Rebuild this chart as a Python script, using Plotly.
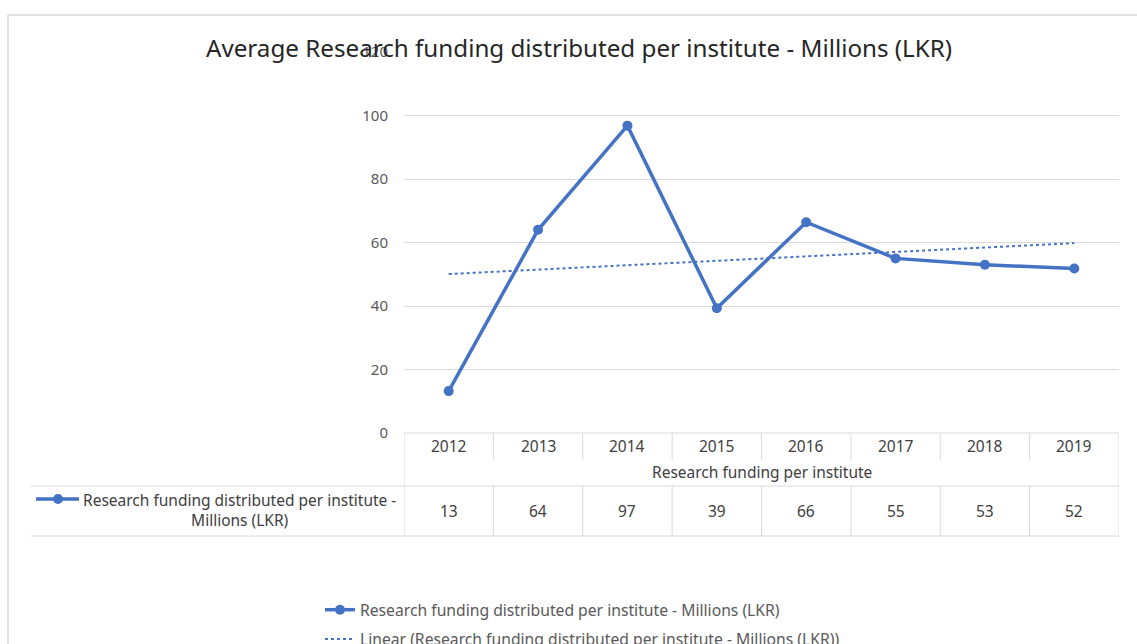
import numpy as np
import plotly.graph_objects as go

# ---- data ----
years = ["2012", "2013", "2014", "2015", "2016", "2017", "2018", "2019"]
funding = [13.2, 64.0, 96.8, 39.3, 66.4, 55.0, 53.0, 51.8]
table_values = ["13", "64", "97", "39", "66", "55", "53", "52"]
y_ticks = [0, 20, 40, 60, 80, 100, 120]
series_name = "Research funding distributed per institute - Millions (LKR)"
trend_name = "Linear (Research funding distributed per institute - Millions (LKR))"
category_title = "Research funding per institute"
chart_title = "Average Research funding distributed per institute - Millions (LKR)"

# linear trendline fitted to the series
xi = np.arange(len(funding))
trend = np.polyval(np.polyfit(xi, funding, 1), xi)

# ---- layout geometry (pixels) ----
W, H = 1137, 644
L, R, T, B = 404, 1119, 52, 433
def px(x):
    return (x - L) / (R - L)
def py(y):
    return (B - y) / (B - T)

BLUE = "#4472C4"
GRID = "#d9d9d9"
FONT = "Noto Sans"
TXT = "#404040"

fig = go.Figure()
fig.add_trace(go.Scatter(
    x=years, y=funding, mode="lines+markers", name=series_name,
    line=dict(color=BLUE, width=3.5), marker=dict(size=10, color=BLUE),
    legendgroup="a"))
fig.add_trace(go.Scatter(
    x=years, y=trend, mode="lines", name=trend_name,
    line=dict(color=BLUE, width=2, dash="dot"), legendgroup="b"))

shapes = []
# outer chart frame
shapes.append(dict(type="rect", xref="paper", yref="paper",
                   x0=px(8), x1=px(1160), y0=py(15), y1=py(670),
                   line=dict(color=GRID, width=1.5), layer="below"))
line_style = dict(color=GRID, width=1)
n = len(years)
# header row top
shapes.append(dict(type="line", xref="x", yref="paper", x0=-0.5, x1=n - 0.5,
                   y0=py(433), y1=py(433), line=line_style))
# header dividers
for i in range(n + 1):
    y_end = 536 if i in (0, n) else 460
    shapes.append(dict(type="line", xref="x", yref="paper", x0=i - 0.5, x1=i - 0.5,
                       y0=py(433), y1=py(y_end), line=line_style))
# value row dividers
for i in range(1, n):
    shapes.append(dict(type="line", xref="x", yref="paper", x0=i - 0.5, x1=i - 0.5,
                       y0=py(486), y1=py(536), line=line_style))
# value row top & bottom
for yy in (486, 536):
    shapes.append(dict(type="line", xref="paper", yref="paper", x0=px(31), x1=1,
                       y0=py(yy), y1=py(yy), line=line_style))
# legend key inside table
shapes.append(dict(type="line", xref="paper", yref="paper", x0=px(36), x1=px(79),
                   y0=py(499), y1=py(499), line=dict(color=BLUE, width=3.5)))
shapes.append(dict(type="circle", xref="paper", yref="paper",
                   xsizemode="pixel", ysizemode="pixel",
                   xanchor=px(58), yanchor=py(499), x0=-5, x1=5, y0=-5, y1=5,
                   fillcolor=BLUE, line=dict(color=BLUE, width=0)))

annotations = []
tfont = dict(family=FONT, size=15.5, color=TXT)
for i, (yr, v) in enumerate(zip(years, table_values)):
    annotations.append(dict(x=i, xref="x", y=py(446), yref="paper", text=yr,
                            showarrow=False, font=tfont, xanchor="center", yanchor="middle"))
    annotations.append(dict(x=i, xref="x", y=py(511), yref="paper", text=v,
                            showarrow=False, font=tfont, xanchor="center", yanchor="middle"))
annotations.append(dict(x=0.5, xref="paper", y=py(472), yref="paper", text=category_title,
                        showarrow=False, font=tfont, xanchor="center", yanchor="middle"))
annotations.append(dict(x=px(239), xref="paper", y=py(510), yref="paper",
                        text="Research funding distributed per institute -<br>Millions (LKR)",
                        showarrow=False, font=tfont, xanchor="center", yanchor="middle",
                        align="center"))

fig.update_layout(
    width=W, height=H, autosize=False,
    margin=dict(l=L, r=W - R, t=T, b=H - B, autoexpand=False),
    paper_bgcolor="white", plot_bgcolor="white",
    title=dict(text=chart_title, x=579 / W, xanchor="center", xref="container",
               y=1 - 49 / H, yanchor="middle", yref="container",
               font=dict(family=FONT, size=24.2, color="#262626")),
    xaxis=dict(type="category", range=[-0.5, n - 0.5], showticklabels=False,
               showgrid=False, zeroline=False, showline=False, ticks=""),
    yaxis=dict(range=[0, 120], tickvals=y_ticks, showgrid=True, gridcolor=GRID, gridwidth=1,
               zeroline=False, showline=False, ticks="", ticklabelstandoff=15,
               tickfont=dict(family=FONT, size=15, color="#595959")),
    showlegend=True,
    legend=dict(x=px(320), xref="paper", xanchor="left", y=py(593), yanchor="top",
                font=dict(family=FONT, size=15.7, color="#595959"),
                bgcolor="rgba(0,0,0,0)", tracegroupgap=6, traceorder="grouped"),
    shapes=shapes, annotations=annotations,
)

fig.write_html("out.html", config={"displayModeBar": False},
               post_script="document.body.style.margin='0';")
